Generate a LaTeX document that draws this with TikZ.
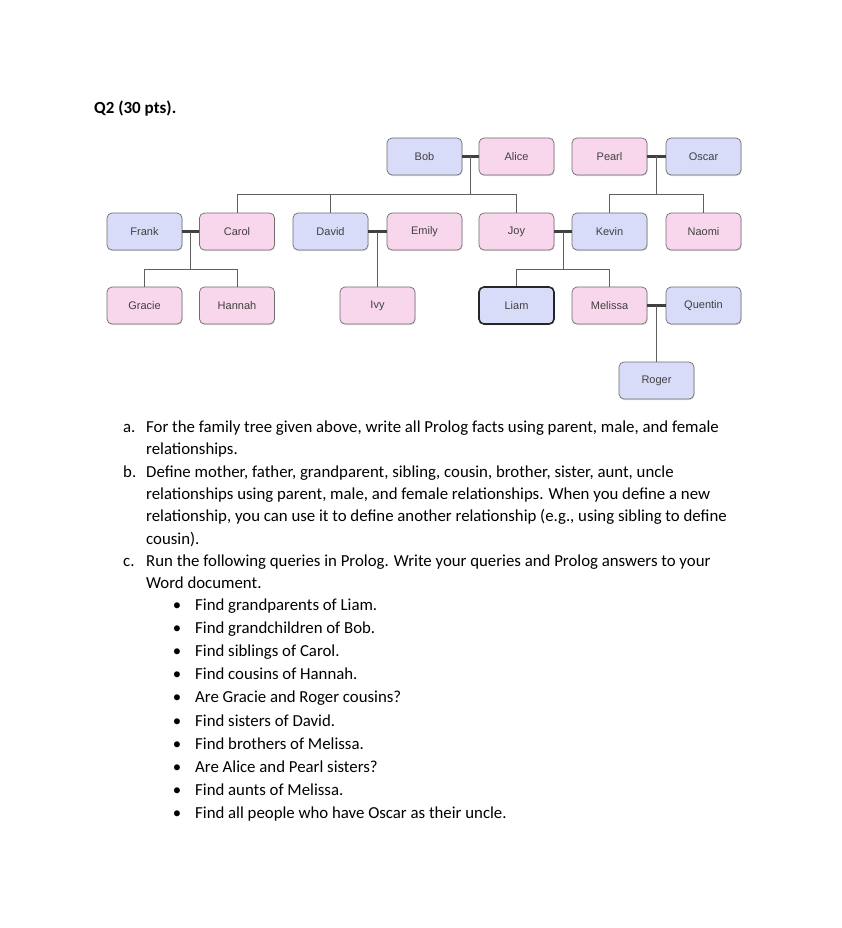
\documentclass[tikz,border=0pt]{standalone}
\usepackage{fontspec}
\setmainfont{Carlito}
\newfontfamily\tagfont{Liberation Sans}
\usetikzlibrary{shadows}
\definecolor{femfill}{HTML}{F8D7EC}
\definecolor{malefill}{HTML}{D9DCF8}
\definecolor{boxline}{HTML}{6E6E6E}
\definecolor{kincolor}{HTML}{5E5E5E}
\begin{document}
\begin{tikzpicture}[x=1pt, y=-1pt,
		person/.style={draw=boxline, line width=0.7pt, rounded corners=5pt, minimum width=75pt, minimum height=37pt, inner sep=0pt,
			font=\tagfont\fontsize{11}{13}\selectfont, text=black!75,
			drop shadow={shadow xshift=0.6pt, shadow yshift=-1.2pt, opacity=0.25}},
		female/.style={person, fill=femfill},
		male/.style={person, fill=malefill},
		wedline/.style={line width=2.6pt, draw=black!75},
		kinline/.style={line width=0.8pt, draw=kincolor},
		qline/.style={anchor=base west, inner sep=0pt, font=\fontsize{16.8}{20}\selectfont}]
	\fill[white] (0,0) rectangle (842,928);
	\useasboundingbox (0,0) rectangle (842,928);

	\node (Q) at (94,114) [anchor=base west, inner sep=0pt, font=\bfseries\fontsize{17}{20}\selectfont] {Q2 (30 pts).};

	\node (Bob)     at (424.5,156.5) [male]   {Bob};
	\node (Alice)   at (516.5,156.5) [female] {Alice};
	\node (Pearl)   at (609.5,156.5) [female] {Pearl};
	\node (Oscar)   at (703.5,156.5) [male]   {Oscar};

	\node (Frank)   at (144.5,231.5) [male]   {Frank};
	\node (Carol)   at (237,231.5)   [female] {Carol};
	\node (David)   at (330.5,231.5) [male]   {David};
	\node (Emily)   at (424.5,231.5) [female] {Emily};
	\node (Joy)     at (516.5,231.5) [female] {Joy};
	\node (Kevin)   at (609.5,231.5) [male]   {Kevin};
	\node (Naomi)   at (703.5,231.5) [female] {Naomi};

	\node (Gracie)  at (144.5,305.5) [female] {Gracie};
	\node (Hannah)  at (237,305.5)   [female] {Hannah};
	\node (Ivy)     at (377.5,305.5) [female] {Ivy};
	\node (Liam)    at (516.5,305.5) [male, draw=black!85, line width=1.6pt] {Liam};
	\node (Melissa) at (609.5,305.5) [female] {Melissa};
	\node (Quentin) at (703.5,305.5) [male]   {Quentin};

	\node (Roger)   at (656.5,380.5) [male]   {Roger};

	% couples
	\draw[wedline] (Bob) -- coordinate (BA) (Alice);
	\draw[wedline] (Pearl) -- coordinate (PO) (Oscar);
	\draw[wedline] (Frank) -- coordinate (FC) (Carol);
	\draw[wedline] (David) -- coordinate (DE) (Emily);
	\draw[wedline] (Joy) -- coordinate (JK) (Kevin);
	\draw[wedline] (Melissa) -- coordinate (MQ) (Quentin);

	% children
	\draw[kinline] (BA) -- ++(0,37.5) coordinate (BAc);
	\draw[kinline] (BAc) -| (Carol);
	\draw[kinline] (BAc) -| (David);
	\draw[kinline] (BAc) -| (Joy);
	\draw[kinline] (PO) -- ++(0,37.5) coordinate (POc);
	\draw[kinline] (POc) -| (Kevin);
	\draw[kinline] (POc) -| (Naomi);
	\draw[kinline] (FC) -- ++(0,37.5) coordinate (FCc);
	\draw[kinline] (FCc) -| (Gracie);
	\draw[kinline] (FCc) -| (Hannah);
	\draw[kinline] (DE) -- (Ivy);
	\draw[kinline] (JK) -- ++(0,37.5) coordinate (JKc);
	\draw[kinline] (JKc) -| (Liam);
	\draw[kinline] (JKc) -| (Melissa);
	\draw[kinline] (MQ) -- (Roger);

	% questions
	\node (a) at (123,432.5) [qline] {a.};
	\node (b) at (123,477.1) [qline] {b.};
	\node (c) at (123,566.3) [qline] {c.};
	\foreach \t [count=\i from 0] in {
		{For the family tree given above, write all Prolog facts using parent, male, and female},
		{relationships.},
		{Define mother, father, grandparent, sibling, cousin, brother, sister, aunt, uncle},
		{relationships using parent, male, and female relationships. When you define a new},
		{relationship, you can use it to define another relationship (e.g., using sibling to define},
		{cousin).},
		{Run the following queries in Prolog. Write your queries and Prolog answers to your},
		{Word document.}}
		\node (L\i) at (146,{432.5+22.3*\i}) [qline] {\t};
	\foreach \t [count=\i from 0] in {
		{Find grandparents of Liam.},
		{Find grandchildren of Bob.},
		{Find siblings of Carol.},
		{Find cousins of Hannah.},
		{Are Gracie and Roger cousins?},
		{Find sisters of David.},
		{Find brothers of Melissa.},
		{Are Alice and Pearl sisters?},
		{Find aunts of Melissa.},
		{Find all people who have Oscar as their uncle.}}
	{
		\node (D\i) at (177,{610+23.22*\i}) [qline, anchor=base] {\textbullet};
		\node (Q\i) at (195,{610+23.22*\i}) [qline] {\t};
	}
\end{tikzpicture}
\end{document}
